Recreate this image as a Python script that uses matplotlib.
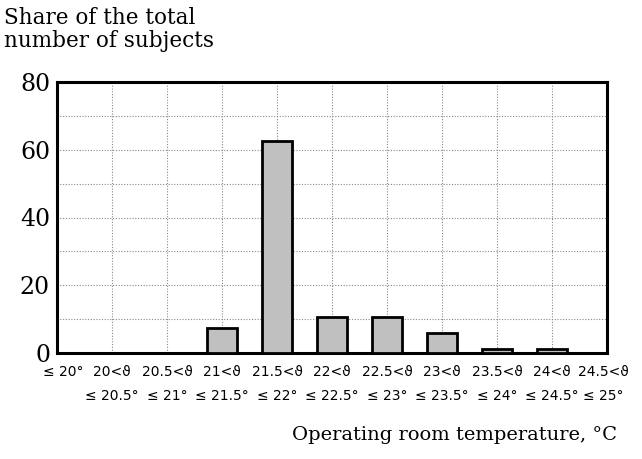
import matplotlib
matplotlib.use("Agg")
import matplotlib.pyplot as plt
import matplotlib.transforms as mtransforms
import numpy as np

# ranges of operating room temperature
labels = ["≤ 20°", "20<ϑ\n≤ 20.5°", "20.5<ϑ\n≤ 21°", "21<ϑ\n≤ 21.5°", "21.5<ϑ\n≤ 22°",
          "22<ϑ\n≤ 22.5°", "22.5<ϑ\n≤ 23°", "23<ϑ\n≤ 23.5°", "23.5<ϑ\n≤ 24°",
          "24<ϑ\n≤ 24.5°", "24.5<ϑ\n≤ 25°"]
share = [0, 0, 0, 7.4, 62.6, 10.6, 10.6, 6.0, 1.2, 1.2, 0]

serif = ["DejaVu Serif"]
narrow = ["Liberation Sans Narrow", "DejaVu Sans"]

fig = plt.figure(figsize=(6.42, 4.59), dpi=100)
ax = fig.add_axes([57/642, 1 - 353/459, 550/642, 271/459])

x = np.arange(len(labels))
ax.bar(x, share, width=0.53, color="#c0c0c0", edgecolor="black", linewidth=2, zorder=3)

ax.set_xlim(0, 10)
ax.set_ylim(0, 80)
ax.set_yticks([0, 20, 40, 60, 80])
ax.set_yticks([10, 30, 50, 70], minor=True)
ax.set_xticks(x)
ax.set_xticklabels(labels, family=narrow, fontsize=10, linespacing=1.9)
for t in ax.get_yticklabels():
    t.set_family(serif)
    t.set_fontsize(17)
ax.tick_params(axis="both", which="both", length=0)
ax.tick_params(axis="x", pad=9)
ax.tick_params(axis="y", pad=5)
ax.grid(True, which="both", linestyle=(0, (1, 1.5)), color="#888888", linewidth=0.8, zorder=0)

# edge labels sit a little inside the frame
xt = ax.get_xticklabels()
xt[0].set_transform(xt[0].get_transform() + mtransforms.ScaledTranslation(6/100, 0, fig.dpi_scale_trans))
xt[-1].set_transform(xt[-1].get_transform() + mtransforms.ScaledTranslation(-4/100, 0, fig.dpi_scale_trans))

for s in ax.spines.values():
    s.set_linewidth(2.2)

fig.text(4/642, 1 - 7/459, "Share of the total\nnumber of subjects", family=serif,
         fontsize=15.5, va="top", ha="left", linespacing=1.05)
fig.text(617/642, 1 - 440/459, "Operating room temperature, °C", family=serif,
         fontsize=14, ha="right", va="baseline")

plt.savefig("out.png", dpi=100)
